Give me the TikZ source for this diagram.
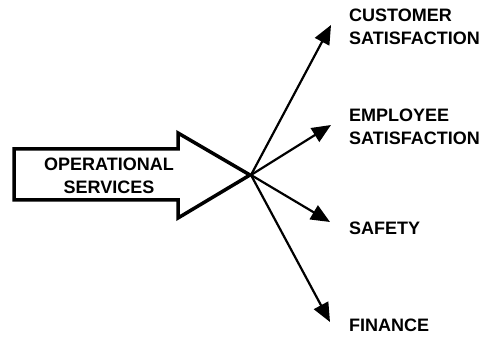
\documentclass[tikz,border=0pt]{standalone}
\usepackage{fontspec}
\setmainfont{Liberation Sans}
\usepackage{tikz}
\usetikzlibrary{arrows.meta,positioning}

\begin{document}
\begin{tikzpicture}[x=1pt,y=1pt,font=\fontsize{18}{22.5}\selectfont\bfseries,
  goal/.style={anchor=west,align=left,inner sep=0pt},
  spoke/.style={line width=2.2pt,-{Triangle[length=19pt,width=16pt]}}]
\useasboundingbox (0,0) rectangle (483,338);
% big arrow
\draw[line width=3.5pt,line join=miter] (14,189) -- (178,189) -- (178,205) -- (250,163)
  -- (178,120) -- (178,138) -- (14,138) -- cycle;
\node[align=center,inner sep=0pt] (ops) at (109,162) {OPERATIONAL\\SERVICES};
\coordinate (hub) at (251,163);
% outcomes
\node[goal] (cust) at (349,311) {CUSTOMER\\SATISFACTION};
\node[goal] (empl) at (349,211) {EMPLOYEE\\SATISFACTION};
\node[goal] (safe) at (349,110) {SAFETY};
\node[goal] (fin) at (349,13) {FINANCE};
\coordinate (custtip) at (331,313);
\coordinate (empltip) at (331,213);
\coordinate (safetip) at (330,116);
\coordinate (fintip) at (330,16);
\draw[spoke] (hub) -- (custtip);
\draw[spoke] (hub) -- (empltip);
\draw[spoke] (hub) -- (safetip);
\draw[spoke] (hub) -- (fintip);
\end{tikzpicture}
\end{document}
